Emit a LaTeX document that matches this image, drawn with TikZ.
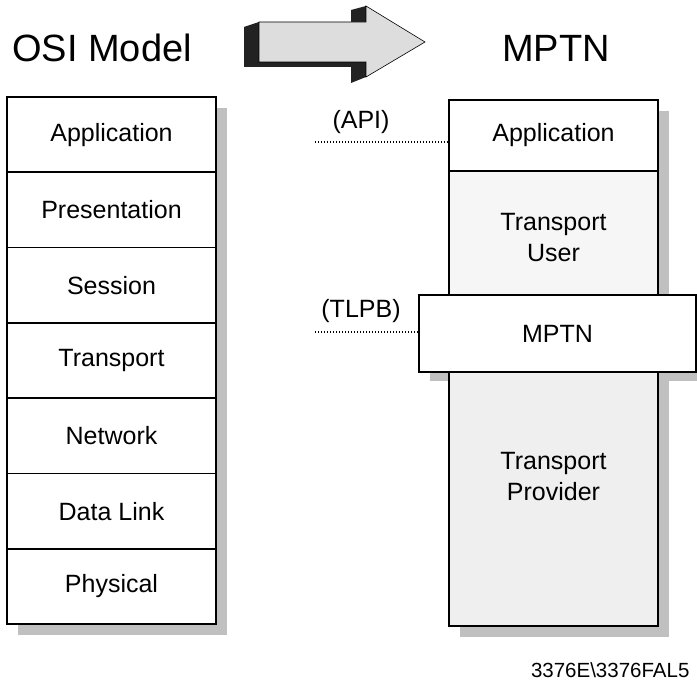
\documentclass[tikz,border=0pt]{standalone}
\usepackage{fontspec}
\setmainfont{Liberation Sans}
\usetikzlibrary{positioning}
\definecolor{osishade}{HTML}{C0C0C0}
\definecolor{osidark}{HTML}{222222}
\definecolor{osiface}{HTML}{DDDDDD}
\definecolor{tpuser}{HTML}{F6F6F6}
\definecolor{tpprov}{HTML}{EFEFEF}

\begin{document}
\begin{tikzpicture}[x=1pt, y=-1pt,
  layer/.style={rectangle, draw=black, line width=1.8pt, fill=white,
                minimum width=209pt, minimum height=#1, inner sep=0pt,
                align=center, font=\fontsize{25}{31}\selectfont},
  layer/.default=75.3pt,
  coltxt/.style={align=center, font=\fontsize{25}{31}\selectfont},
  ttl/.style={font=\fontsize{38}{44}\selectfont},
  iflbl/.style={font=\fontsize{25}{30}\selectfont},
  ifline/.style={line width=1.2pt, dash pattern=on 1.4pt off 1.6pt},
]
\useasboundingbox (0,0) rectangle (697,687);

%% ---- titles ----
\node[ttl] (osititle) at (102,48) {OSI Model};
\node[ttl] (mptntitle) at (556,48) {MPTN};

%% ---- big arrow (extruded look) ----
\fill[osidark] (259,22) -- (244,27) -- (244,67) -- (351,67) -- (351,83)
  -- (366,77) -- (366,62) -- (259,62) -- cycle;
\fill[osidark] (351,10) -- (366,6) -- (366,22) -- (351,22) -- cycle;
\draw[fill=osiface, line width=0.6pt] (259,22) -- (366,22) -- (366,6)
  -- (425,42) -- (366,77) -- (366,62) -- (259,62) -- cycle;

%% ---- shadows ----
\fill[osishade] (18,108) rectangle (227,635);
\fill[osishade] (460,111) rectangle (669,637);
\fill[osishade] (430,304) rectangle (707,381);

%% ---- OSI stack ----
\foreach \lbl [count=\i] in {Application,Presentation,Session,Transport,
                             Network,Data Link,Physical}
  \node[layer] (osi\i) at (111.5,{97+75.3*(\i-0.5)}) {\lbl};

%% ---- MPTN stack ----
\node[layer=71pt] (app) at (553.5,135.5) {Application};
\node[layer=124pt, fill=tpuser] (user) at (553.5,233) {};
\node[coltxt] (usertxt) at (553.5,238) {Transport\\User};
\node[layer=254pt, fill=tpprov] (prov) at (553.5,499) {};
\node[coltxt] (provtxt) at (553.5,477) {Transport\\Provider};
\node[layer=77pt, minimum width=277pt] (mptn) at (557.5,333.5) {MPTN};

%% ---- interface lines ----
\coordinate (apiend) at (315,142);
\draw[ifline] (apiend) -- (app.west |- apiend);
\node[iflbl] (api) at (361,122) {(API)};
\coordinate (tlpbend) at (315,332);
\draw[ifline] (tlpbend) -- (mptn.west |- tlpbend);
\node[iflbl] (tlpb) at (361,311) {(TLPB)};

%% ---- figure id ----
\node[anchor=east, font=\fontsize{20.5}{24}\selectfont] (figid)
  at (693,670) {3376E\textbackslash 3376FAL5};

\end{tikzpicture}
\end{document}
